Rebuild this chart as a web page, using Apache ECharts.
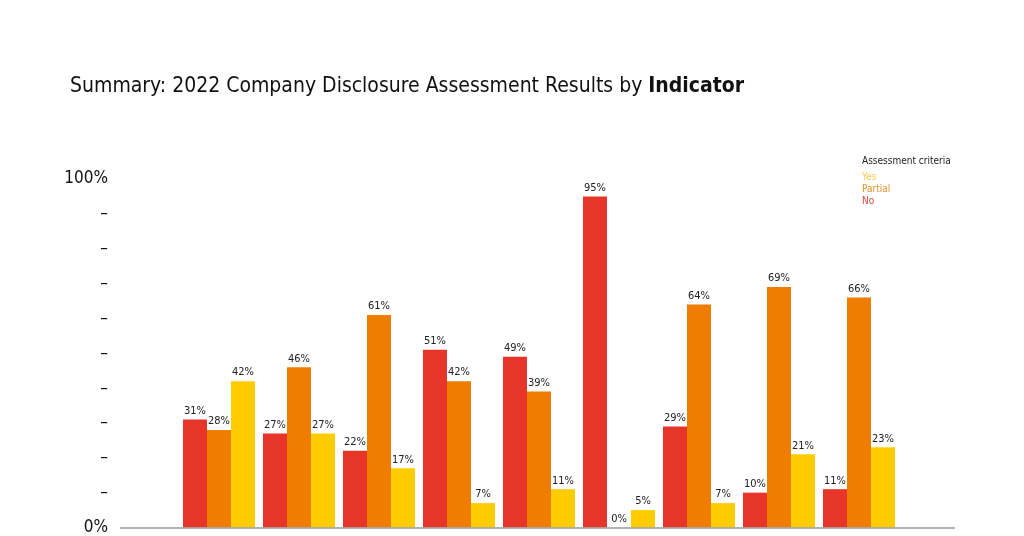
<!DOCTYPE html>
<html><head><meta charset="utf-8">
<script src="https://cdn.jsdelivr.net/npm/echarts@6/dist/echarts.min.js"></script>
<style>html,body{margin:0;padding:0;background:#fff}#c{width:1024px;height:536px}</style>
</head><body><div id="c"></div>
<script>
const categories = ['1','2','3','4','5','6','7','8','9'];
const noValues = [31, 27, 22, 51, 49, 95, 29, 10, 11];
const partialValues = [28, 46, 61, 42, 39, 0, 64, 69, 66];
const yesValues = [42, 27, 17, 7, 11, 5, 7, 21, 23];
const seriesNames = ['No', 'Partial', 'Yes'];
const legendOrder = ['Yes', 'Partial', 'No'];
const colors = {No: '#E8352A', Partial: '#EE7D00', Yes: '#FFCC00'};
const legendColors = {No: '#E0463A', Partial: '#E8922E', Yes: '#F4CC4A'};

const FONT = '"Liberation Sans Narrow", "DejaVu Sans Condensed", Lato, sans-serif';
const chart = echarts.init(document.getElementById('c'));
const valuesByName = {No: noValues, Partial: partialValues, Yes: yesValues};

chart.setOption({
  animation: false,
  title: [
    {text: 'Summary: 2022 Company Disclosure Assessment Results by {b|Indicator}',
     left: 65, top: 71,
     textStyle: {fontFamily: FONT, fontSize: 21, fontWeight: 'normal', color: '#111',
       rich: {b: {fontFamily: FONT, fontSize: 21, fontWeight: 'bold', color: '#111'}}}},
    {text: 'Assessment criteria', left: 857, top: 151,
     textStyle: {fontFamily: FONT, fontSize: 10, fontWeight: 'normal', color: '#222'}}
  ],
  legend: {
    orient: 'vertical', left: 857, top: 167, icon: 'none',
    itemWidth: 0, itemHeight: 11, itemGap: 1.5, selectedMode: false,
    data: legendOrder.map(n => ({name: n, textStyle: {color: legendColors[n]}})),
    textStyle: {fontFamily: FONT, fontSize: 10, padding: [0, 0, 0, -5]}
  },
  grid: {left: 179, width: 720, top: 179, bottom: 8},
  xAxis: {
    type: 'category', data: categories,
    axisLine: {show: false}, axisTick: {show: false}, axisLabel: {show: false}
  },
  yAxis: {
    type: 'value', min: 0, max: 100, interval: 10,
    axisLine: {show: false}, axisTick: {show: false}, splitLine: {show: false},
    axisLabel: {
      margin: 71, fontFamily: FONT, fontSize: 17, color: '#111',
      formatter: v => v === 0 ? '0%' : (v === 100 ? '100%' : '–')
    }
  },
  graphic: [{
    type: 'line', shape: {x1: 120, y1: 528, x2: 955, y2: 528},
    style: {stroke: '#9a9a9a', lineWidth: 1.5}, z: 10
  }],
  series: seriesNames.map(n => ({
    name: n, type: 'bar', data: valuesByName[n],
    barWidth: 24, barGap: '0%',
    itemStyle: {color: colors[n]},
    label: {show: true, position: 'top', distance: 3, formatter: '{c}%',
      fontFamily: FONT, fontSize: 11, color: '#222'}
  }))
});
</script></body></html>
